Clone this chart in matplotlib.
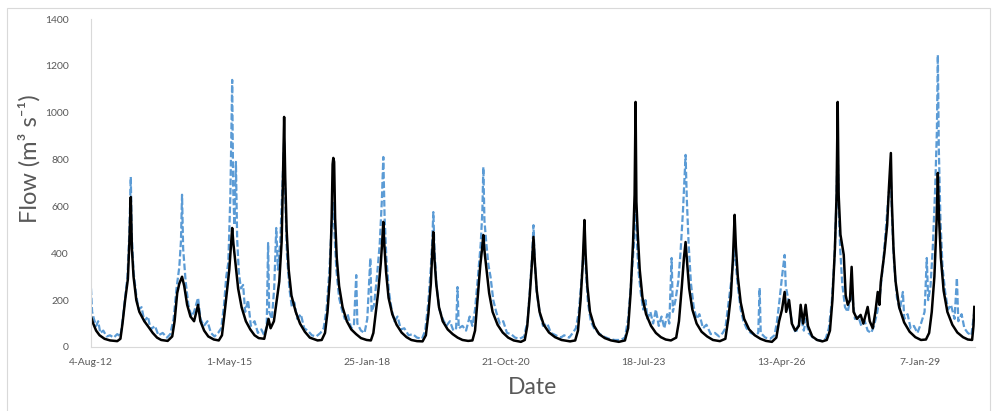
import pandas as pd
import matplotlib.pyplot as plt
from matplotlib.patches import Rectangle

observed = [
    ("2012-08-04", 130), ("2012-08-20", 100), ("2012-09-10", 70), ("2012-10-05", 50), ("2012-11-10", 35), ("2012-12-20", 28),
    ("2013-02-10", 25), ("2013-03-05", 35), ("2013-03-20", 100), ("2013-04-08", 200), ("2013-04-28", 290), ("2013-05-09", 450),
    ("2013-05-19", 640), ("2013-05-27", 420), ("2013-06-08", 300), ("2013-06-28", 200), ("2013-07-20", 150), ("2013-08-25", 110),
    ("2013-09-25", 85), ("2013-10-25", 60), ("2013-11-25", 40), ("2013-12-25", 30),
    ("2014-02-10", 26), ("2014-03-15", 45), ("2014-04-01", 110), ("2014-04-20", 230), ("2014-05-05", 270),
    ("2014-05-25", 300), ("2014-06-10", 260), ("2014-07-01", 180), ("2014-07-25", 130), ("2014-08-20", 110), ("2014-09-18", 180),
    ("2014-10-05", 110), ("2014-11-01", 70), ("2014-12-01", 45),
    ("2015-01-10", 32), ("2015-02-15", 28), ("2015-03-10", 50), ("2015-03-28", 140), ("2015-04-15", 240), ("2015-05-02", 330),
    ("2015-05-13", 420), ("2015-05-23", 508), ("2015-06-01", 440), ("2015-06-15", 360), ("2015-07-05", 250), ("2015-07-30", 170),
    ("2015-08-30", 110), ("2015-10-01", 75), ("2015-11-01", 50), ("2015-12-01", 38),
    ("2016-01-10", 35), ("2016-02-10", 120), ("2016-02-25", 80), ("2016-03-20", 110), ("2016-04-10", 200), ("2016-04-28", 280),
    ("2016-05-15", 450), ("2016-05-24", 700), ("2016-06-02", 982), ("2016-06-10", 720), ("2016-06-20", 500), ("2016-07-05", 330),
    ("2016-07-25", 220), ("2016-08-25", 150), ("2016-09-25", 100), ("2016-10-30", 65), ("2016-12-05", 40),
    ("2017-01-30", 28), ("2017-03-01", 30), ("2017-03-25", 60), ("2017-04-12", 150), ("2017-04-30", 300), ("2017-05-12", 550),
    ("2017-05-19", 780), ("2017-05-24", 807), ("2017-05-30", 790), ("2017-06-06", 550), ("2017-06-18", 380), ("2017-07-05", 260),
    ("2017-07-30", 170), ("2017-08-30", 110), ("2017-10-01", 75), ("2017-11-05", 55), ("2017-12-10", 38),
    ("2018-01-20", 30), ("2018-02-20", 28), ("2018-03-10", 60), ("2018-03-28", 150), ("2018-04-15", 240), ("2018-05-03", 360),
    ("2018-05-13", 450), ("2018-05-21", 534), ("2018-05-29", 430), ("2018-06-10", 320), ("2018-06-28", 210), ("2018-07-25", 140),
    ("2018-08-25", 95), ("2018-09-30", 62), ("2018-11-05", 42), ("2018-12-10", 30),
    ("2019-01-20", 25), ("2019-03-01", 24), ("2019-03-25", 50), ("2019-04-12", 140), ("2019-04-30", 270), ("2019-05-10", 400),
    ("2019-05-18", 491), ("2019-05-26", 380), ("2019-06-08", 270), ("2019-06-28", 170), ("2019-07-25", 110), ("2019-08-30", 75),
    ("2019-10-05", 55), ("2019-11-10", 40), ("2019-12-15", 30),
    ("2020-01-25", 26), ("2020-02-25", 28), ("2020-03-15", 70), ("2020-04-02", 200), ("2020-04-22", 350), ("2020-05-05", 420),
    ("2020-05-14", 478), ("2020-05-24", 400), ("2020-06-08", 320), ("2020-06-25", 230), ("2020-07-20", 150), ("2020-08-25", 95),
    ("2020-10-01", 62), ("2020-11-10", 40), ("2020-12-20", 28),
    ("2021-02-10", 22), ("2021-03-10", 30), ("2021-03-28", 90), ("2021-04-15", 220), ("2021-04-30", 350), ("2021-05-12", 470),
    ("2021-05-22", 360), ("2021-06-05", 240), ("2021-06-25", 150), ("2021-07-25", 95), ("2021-09-01", 62), ("2021-10-15", 42),
    ("2021-12-01", 30),
    ("2022-02-01", 24), ("2022-03-10", 28), ("2022-03-30", 70), ("2022-04-18", 200), ("2022-05-03", 350), ("2022-05-10", 450),
    ("2022-05-16", 542), ("2022-05-24", 400), ("2022-06-06", 260), ("2022-06-25", 150), ("2022-07-25", 90), ("2022-08-30", 55),
    ("2022-10-10", 38), ("2022-11-25", 28),
    ("2023-01-20", 22), ("2023-03-05", 28), ("2023-03-28", 80), ("2023-04-15", 230), ("2023-05-03", 450), ("2023-05-14", 650),
    ("2023-05-21", 1046), ("2023-05-27", 620), ("2023-06-06", 480), ("2023-06-20", 330), ("2023-07-10", 210), ("2023-08-05", 140),
    ("2023-09-10", 90), ("2023-10-15", 60), ("2023-11-20", 42), ("2023-12-25", 32),
    ("2024-02-01", 28), ("2024-03-10", 40), ("2024-03-30", 110), ("2024-04-20", 260), ("2024-05-05", 380), ("2024-05-17", 448),
    ("2024-05-28", 360), ("2024-06-12", 250), ("2024-07-05", 160), ("2024-08-05", 100), ("2024-09-10", 65), ("2024-10-20", 45),
    ("2024-12-01", 30),
    ("2025-01-20", 25), ("2025-03-01", 35), ("2025-03-22", 120), ("2025-04-10", 220), ("2025-04-25", 380), ("2025-05-07", 564),
    ("2025-05-16", 430), ("2025-05-30", 300), ("2025-06-20", 190), ("2025-07-15", 120), ("2025-08-20", 75), ("2025-09-30", 50),
    ("2025-11-10", 35), ("2025-12-20", 26),
    ("2026-02-01", 22), ("2026-03-05", 40), ("2026-03-25", 110), ("2026-04-15", 160), ("2026-05-04", 235), ("2026-05-15", 150),
    ("2026-06-05", 200), ("2026-06-25", 100), ("2026-07-20", 70), ("2026-08-15", 90), ("2026-08-28", 180), ("2026-09-15", 100),
    ("2026-10-03", 180), ("2026-10-20", 90), ("2026-11-20", 45), ("2026-12-25", 30),
    ("2027-02-01", 24), ("2027-03-05", 30), ("2027-03-28", 70), ("2027-04-15", 200), ("2027-05-03", 420), ("2027-05-15", 650),
    ("2027-05-23", 1046), ("2027-05-30", 650), ("2027-06-12", 480), ("2027-07-06", 393), ("2027-07-20", 220), ("2027-08-04", 180),
    ("2027-08-20", 200), ("2027-09-01", 342), ("2027-09-15", 150), ("2027-10-10", 120), ("2027-11-05", 137), ("2027-11-25", 100),
    ("2027-12-26", 171),
    ("2028-01-10", 110), ("2028-02-01", 80), ("2028-02-20", 150), ("2028-03-08", 235), ("2028-03-20", 180), ("2028-03-30", 277),
    ("2028-04-25", 400), ("2028-05-15", 520), ("2028-05-28", 680), ("2028-06-11", 828), ("2028-06-18", 620), ("2028-06-30", 420),
    ("2028-07-15", 280), ("2028-08-10", 170), ("2028-09-15", 105), ("2028-10-25", 65), ("2028-12-05", 42),
    ("2029-01-15", 30), ("2029-02-20", 32), ("2029-03-15", 60), ("2029-04-03", 150), ("2029-04-22", 300), ("2029-05-07", 520),
    ("2029-05-17", 743), ("2029-05-25", 560), ("2029-06-08", 380), ("2029-06-28", 240), ("2029-07-25", 150), ("2029-08-30", 95),
    ("2029-10-05", 62), ("2029-11-15", 42), ("2029-12-20", 32), ("2030-01-20", 30), ("2030-01-30", 90), ("2030-02-05", 171),
]

# simulated flow (blue dashed)
simulated = [
    ("2012-08-04", 250), ("2012-08-12", 150), ("2012-08-25", 120), ("2012-09-10", 90), ("2012-09-25", 110), ("2012-10-10", 60),
    ("2012-11-01", 70), ("2012-11-25", 45), ("2012-12-20", 50),
    ("2013-01-15", 40), ("2013-02-10", 55), ("2013-03-05", 45), ("2013-03-22", 120), ("2013-04-08", 210), ("2013-04-25", 300),
    ("2013-05-08", 480), ("2013-05-19", 726), ("2013-05-26", 480), ("2013-06-08", 320), ("2013-06-28", 220), ("2013-07-15", 160),
    ("2013-08-05", 170), ("2013-08-25", 110), ("2013-09-20", 130), ("2013-10-10", 75), ("2013-11-10", 90), ("2013-12-05", 50),
    ("2014-01-05", 60), ("2014-02-05", 40), ("2014-03-01", 55), ("2014-03-25", 120), ("2014-04-15", 250), ("2014-05-05", 340),
    ("2014-05-17", 450), ("2014-05-25", 650), ("2014-06-02", 420), ("2014-06-20", 280), ("2014-07-10", 180), ("2014-08-01", 130),
    ("2014-08-20", 150), ("2014-09-18", 210), ("2014-10-05", 120), ("2014-10-30", 90), ("2014-11-25", 110), ("2014-12-20", 60),
    ("2015-01-15", 45), ("2015-02-10", 60), ("2015-03-05", 80), ("2015-03-25", 180), ("2015-04-10", 300), ("2015-04-25", 360),
    ("2015-05-10", 650), ("2015-05-23", 1140), ("2015-05-30", 680), ("2015-06-08", 520), ("2015-06-19", 790), ("2015-06-28", 460),
    ("2015-07-10", 320), ("2015-07-25", 250), ("2015-08-10", 265), ("2015-08-25", 150), ("2015-09-15", 200), ("2015-10-05", 90),
    ("2015-11-01", 110), ("2015-11-25", 60), ("2015-12-20", 75),
    ("2016-01-10", 50), ("2016-01-28", 90), ("2016-02-07", 444), ("2016-02-15", 150), ("2016-03-05", 120), ("2016-03-22", 250),
    ("2016-04-06", 508), ("2016-04-18", 330), ("2016-05-05", 450), ("2016-05-20", 680), ("2016-06-02", 880), ("2016-06-10", 650),
    ("2016-06-22", 400), ("2016-07-10", 250), ("2016-07-28", 170), ("2016-08-15", 190), ("2016-09-05", 120), ("2016-10-01", 140),
    ("2016-10-25", 80), ("2016-11-20", 70), ("2016-12-20", 50),
    ("2017-01-20", 45), ("2017-02-20", 60), ("2017-03-15", 80), ("2017-04-05", 160), ("2017-04-25", 320), ("2017-05-10", 500),
    ("2017-05-24", 620), ("2017-06-02", 480), ("2017-06-15", 330), ("2017-07-05", 210), ("2017-07-25", 160), ("2017-08-15", 120),
    ("2017-09-05", 140), ("2017-09-30", 80), ("2017-10-20", 90), ("2017-11-06", 307), ("2017-11-14", 100), ("2017-12-10", 70),
    ("2018-01-05", 60), ("2018-01-25", 120), ("2018-02-16", 380), ("2018-02-25", 150), ("2018-03-15", 180), ("2018-04-05", 300),
    ("2018-04-25", 440), ("2018-05-10", 620), ("2018-05-21", 811), ("2018-05-30", 560), ("2018-06-12", 380), ("2018-06-30", 240),
    ("2018-07-20", 160), ("2018-08-10", 110), ("2018-09-01", 130), ("2018-09-25", 75), ("2018-10-20", 80), ("2018-11-20", 50),
    ("2018-12-20", 55),
    ("2019-01-20", 40), ("2019-02-25", 35), ("2019-03-20", 70), ("2019-04-10", 180), ("2019-04-30", 340), ("2019-05-10", 450),
    ("2019-05-18", 576), ("2019-05-26", 420), ("2019-06-10", 260), ("2019-07-01", 160), ("2019-07-25", 120), ("2019-08-20", 90),
    ("2019-09-15", 110), ("2019-10-10", 70), ("2019-10-30", 80), ("2019-11-09", 256), ("2019-11-18", 80), ("2019-12-15", 90),
    ("2020-01-10", 70), ("2020-02-05", 130), ("2020-02-25", 90), ("2020-03-15", 160), ("2020-04-05", 300), ("2020-04-25", 440),
    ("2020-05-07", 580), ("2020-05-14", 768), ("2020-05-22", 540), ("2020-06-05", 440), ("2020-06-20", 350), ("2020-07-05", 300),
    ("2020-07-25", 200), ("2020-08-15", 150), ("2020-09-10", 100), ("2020-10-05", 110), ("2020-11-01", 60), ("2020-12-01", 55),
    ("2020-12-30", 40),
    ("2021-02-01", 35), ("2021-03-05", 45), ("2021-03-30", 110), ("2021-04-18", 260), ("2021-05-03", 400), ("2021-05-12", 520),
    ("2021-05-20", 380), ("2021-06-05", 230), ("2021-06-28", 140), ("2021-07-20", 90), ("2021-08-20", 100), ("2021-09-15", 60),
    ("2021-10-20", 50), ("2021-11-25", 40), ("2021-12-20", 50),
    ("2022-01-25", 40), ("2022-02-20", 60), ("2022-03-15", 80), ("2022-04-05", 150), ("2022-04-25", 290), ("2022-05-08", 400),
    ("2022-05-16", 480), ("2022-05-25", 340), ("2022-06-10", 190), ("2022-07-01", 110), ("2022-07-25", 80), ("2022-08-25", 60),
    ("2022-10-01", 45), ("2022-11-10", 35), ("2022-12-20", 30),
    ("2023-02-01", 30), ("2023-03-05", 40), ("2023-03-28", 120), ("2023-04-18", 270), ("2023-05-08", 430), ("2023-05-21", 650),
    ("2023-05-28", 480), ("2023-06-10", 330), ("2023-06-28", 230), ("2023-07-15", 160), ("2023-08-01", 200), ("2023-08-15", 120),
    ("2023-09-05", 150), ("2023-09-25", 100), ("2023-10-15", 160), ("2023-11-05", 90), ("2023-11-25", 130), ("2023-12-15", 80),
    ("2024-01-05", 140), ("2024-01-20", 100), ("2024-02-06", 380), ("2024-02-15", 150), ("2024-03-05", 200), ("2024-03-25", 280),
    ("2024-04-10", 400), ("2024-04-28", 580), ("2024-05-17", 820), ("2024-05-26", 630), ("2024-06-08", 440), ("2024-06-25", 270),
    ("2024-07-15", 170), ("2024-08-05", 120), ("2024-08-25", 140), ("2024-09-20", 80), ("2024-10-15", 95), ("2024-11-15", 55),
    ("2024-12-15", 60),
    ("2025-01-15", 45), ("2025-02-10", 60), ("2025-03-01", 80), ("2025-03-22", 180), ("2025-04-10", 270), ("2025-04-28", 370),
    ("2025-05-07", 450), ("2025-05-16", 350), ("2025-06-01", 250), ("2025-06-20", 160), ("2025-07-10", 110), ("2025-08-01", 80),
    ("2025-09-01", 60), ("2025-10-05", 50), ("2025-10-25", 60), ("2025-11-04", 252), ("2025-11-12", 60), ("2025-12-15", 40),
    ("2026-01-20", 35), ("2026-02-20", 50), ("2026-03-10", 110), ("2026-03-28", 200), ("2026-04-15", 300), ("2026-05-04", 393),
    ("2026-05-12", 260), ("2026-05-25", 220), ("2026-06-10", 160), ("2026-07-01", 90), ("2026-07-25", 60), ("2026-08-28", 130),
    ("2026-09-20", 70), ("2026-10-05", 120), ("2026-10-25", 60), ("2026-11-25", 40), ("2026-12-25", 30),
    ("2027-01-25", 28), ("2027-02-25", 35), ("2027-03-20", 80), ("2027-04-10", 190), ("2027-04-30", 380), ("2027-05-14", 620),
    ("2027-05-23", 880), ("2027-05-30", 600), ("2027-06-10", 420), ("2027-06-25", 270), ("2027-07-15", 170), ("2027-08-04", 150),
    ("2027-08-20", 200), ("2027-09-05", 220), ("2027-09-25", 120), ("2027-10-20", 130), ("2027-11-10", 90), ("2027-12-05", 110),
    ("2027-12-26", 70),
    ("2028-01-20", 60), ("2028-02-10", 90), ("2028-03-05", 150), ("2028-03-25", 230), ("2028-04-15", 350), ("2028-05-05", 500),
    ("2028-05-25", 650), ("2028-06-11", 720), ("2028-06-20", 540), ("2028-07-05", 350), ("2028-07-25", 210), ("2028-08-15", 160),
    ("2028-09-06", 235), ("2028-09-16", 120), ("2028-10-10", 140), ("2028-11-01", 80), ("2028-11-25", 90), ("2028-12-20", 60),
    ("2029-01-15", 100), ("2029-02-10", 150), ("2029-02-26", 380), ("2029-03-08", 200), ("2029-03-25", 260), ("2029-04-10", 420),
    ("2029-04-28", 680), ("2029-05-10", 920), ("2029-05-17", 1247), ("2029-05-24", 850), ("2029-06-05", 540), ("2029-06-20", 340),
    ("2029-07-10", 230), ("2029-07-30", 160), ("2029-08-20", 180), ("2029-09-15", 120), ("2029-10-02", 295), ("2029-10-12", 110),
    ("2029-11-05", 140), ("2029-11-25", 80), ("2029-12-20", 60), ("2030-01-15", 50), ("2030-02-05", 150),
]

tick_dates = ["2012-08-04", "2015-05-01", "2018-01-25", "2020-10-21", "2023-07-18", "2026-04-13", "2029-01-07"]
tick_labels = ["4-Aug-12", "1-May-15", "25-Jan-18", "21-Oct-20", "18-Jul-23", "13-Apr-26", "7-Jan-29"]
y_ticks = [0, 200, 400, 600, 800, 1000, 1200, 1400]

obs_x = pd.to_datetime([d for d, v in observed])
obs_y = [v for d, v in observed]
sim_x = pd.to_datetime([d for d, v in simulated])
sim_y = [v for d, v in simulated]

plt.rcParams['font.family'] = ['Lato', 'DejaVu Sans']
grey = '#595959'

fig = plt.figure(figsize=(9.97, 4.11), dpi=100)
ax = fig.add_axes([91/997, 1 - 347/411, 884/997, 328/411])

ax.plot(sim_x, sim_y, color='#5B9BD5', linewidth=1.6, linestyle=(0, (3, 1.2)))
ax.plot(obs_x, obs_y, color='black', linewidth=1.8)

ax.set_xlim(pd.Timestamp("2012-08-04"), pd.Timestamp("2030-02-10"))
ax.set_ylim(0, 1400)
ax.set_yticks(y_ticks)
ax.set_xticks(pd.to_datetime(tick_dates))
ax.set_xticklabels(tick_labels)
ax.tick_params(axis='both', length=0, labelsize=7.5, colors=grey)
ax.tick_params(axis='y', pad=16)
ax.tick_params(axis='x', pad=8)

for s in ['top', 'right']:
    ax.spines[s].set_visible(False)
for s in ['left', 'bottom']:
    ax.spines[s].set_color('#d9d9d9')
    ax.spines[s].set_linewidth(0.8)

fig.text(0.029, 0.613, 'Flow (m³ s⁻¹)', rotation=90, ha='center', va='center', fontsize=17, color=grey)
fig.text(0.534, 0.056, 'Date', ha='center', va='center', fontsize=16.5, color=grey)

# light chart-area border
fig.patches.append(Rectangle((7/997, -0.02), 983/997, 403/411 + 0.02, transform=fig.transFigure,
                             fill=False, edgecolor='#d9d9d9', linewidth=0.8))

fig.savefig('out.png', dpi=100)
